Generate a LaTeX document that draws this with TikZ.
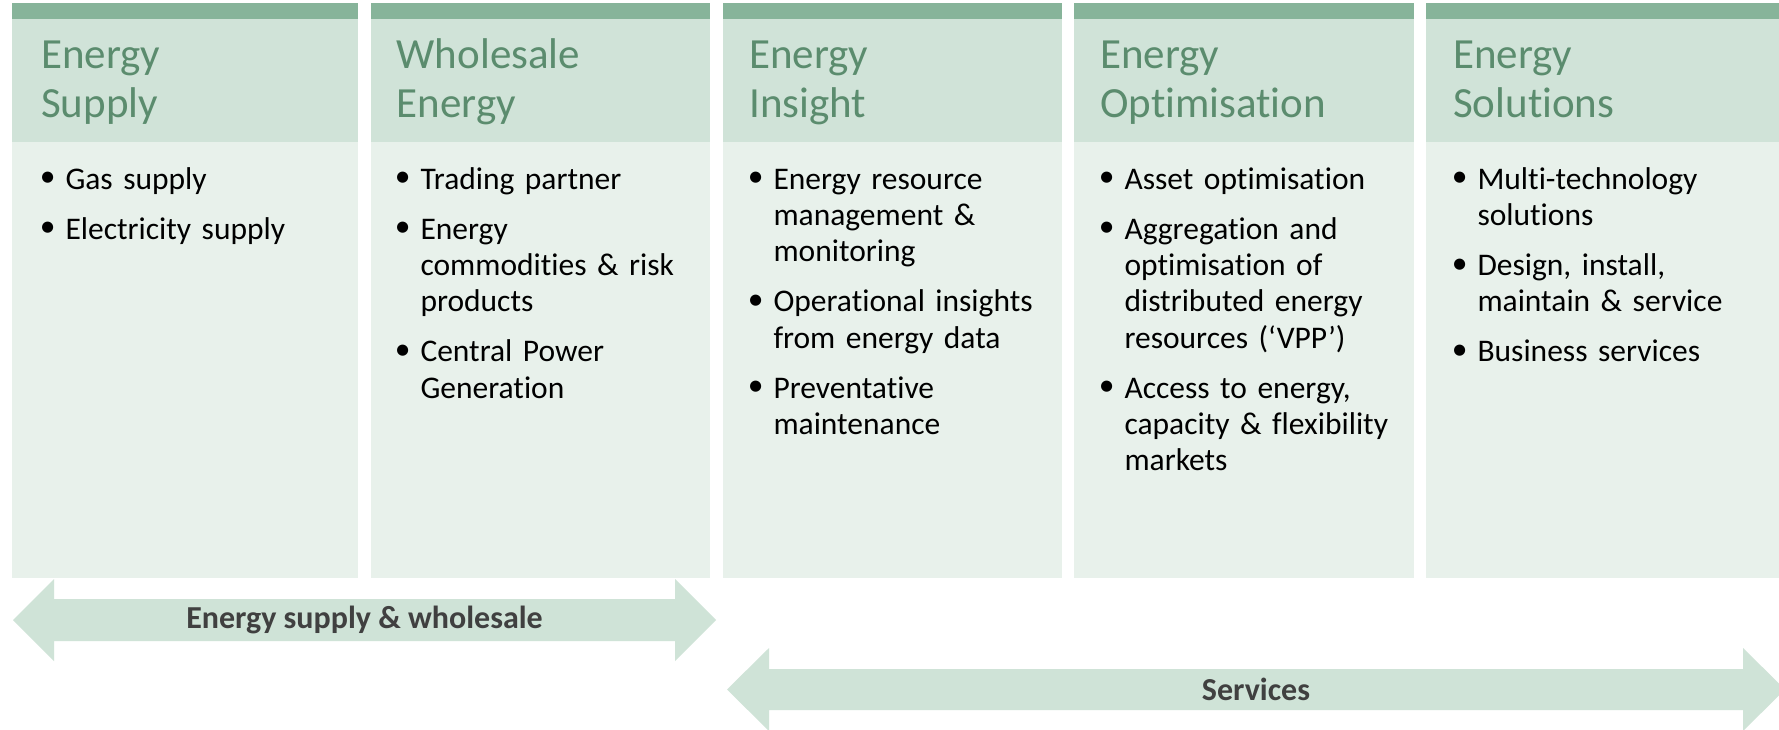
\documentclass[tikz,border=0pt]{standalone}
\usepackage{fontspec}
\setmainfont{Carlito}[Ligatures={NoCommon}]
\definecolor{barcol}{HTML}{87B49A}
\definecolor{headcol}{HTML}{D0E3D8}
\definecolor{bodycol}{HTML}{E8F1EB}
\definecolor{titlecol}{HTML}{5B8C6E}
\definecolor{arrowcol}{HTML}{CFE3D7}
\definecolor{arrowtext}{HTML}{404040}
\newcommand{\bitem}[1]{\noindent\hangindent=23.3pt\hangafter=1\makebox[23.3pt][l]{\hspace{-2.3pt}\raisebox{2.5pt}{\textbullet}}#1\par\vspace{13.7pt}}
\tikzset{
  titletext/.style={anchor=north west, inner sep=0pt, text width=330pt, align=left,
    font=\fontsize{43}{49}\selectfont, text=titlecol},
  bodytext/.style={anchor=north west, inner sep=0pt, text width=330pt, align=left,
    font=\fontsize{31.5}{36.3}\selectfont, text=black},
  arrowlabel/.style={inner sep=0pt, font=\fontsize{32}{36}\selectfont\bfseries, text=arrowtext},
}
\begin{document}
\begin{tikzpicture}[x=1pt,y=-1pt]
\useasboundingbox (0,0) rectangle (1779,730);
\fill[white] (0,0) rectangle (1779,730);
% columns
\foreach \l/\r in {12/358, 371/710, 723/1062, 1074/1414, 1426/1779}{
  \fill[barcol] (\l,3) rectangle (\r,19);
  \fill[headcol] (\l,19) rectangle (\r,142);
  \fill[bodycol] (\l,142) rectangle (\r,578);
}
% titles
\node[titletext] (t1) at (41,33) {\rule{0pt}{35pt}Energy\\Supply};
\node[titletext] (t2) at (396.5,33) {\rule{0pt}{35pt}Wholesale\\Energy};
\node[titletext] (t3) at (749,33) {\rule{0pt}{35pt}Energy\\Insight};
\node[titletext] (t4) at (1100,33) {\rule{0pt}{35pt}Energy\\Optimisation};
\node[titletext] (t5) at (1453,33) {\rule{0pt}{35pt}Energy\\Solutions};
% bodies
\node[bodytext] (b1) at (42,161) {\bitem{\rule{0pt}{28pt}Gas supply}\bitem{Electricity supply}};
\node[bodytext] (b2) at (397,161) {\bitem{\rule{0pt}{28pt}Trading partner}\bitem{Energy\newline commodities \& risk\newline products}\bitem{Central Power\newline Generation}};
\node[bodytext] (b3) at (750,161) {\bitem{\rule{0pt}{28pt}Energy resource\newline management \&\newline monitoring}\bitem{Operational insights\newline from energy data}\bitem{Preventative\newline maintenance}};
\node[bodytext] (b4) at (1101,161) {\bitem{\rule{0pt}{28pt}Asset optimisation}\bitem{Aggregation and\newline optimisation of\newline distributed energy\newline resources (‘VPP’)}\bitem{Access to energy,\newline capacity \& flexibility\newline markets}};
\node[bodytext] (b5) at (1454,161) {\bitem{\rule{0pt}{28pt}Multi-technology\newline solutions}\bitem{Design, install,\newline maintain \& service}\bitem{Business services}};
% arrows
\fill[arrowcol] (13,620) -- (54,579) -- (54,599) -- (675,599) -- (675,579) -- (716,620)
  -- (675,661) -- (675,641) -- (54,641) -- (54,661) -- cycle;
\fill[arrowcol] (727,689.5) -- (769,648) -- (769,669) -- (1743,669) -- (1743,648) -- (1785,689.5)
  -- (1743,731) -- (1743,710) -- (769,710) -- (769,731) -- cycle;
\node[arrowlabel] (a1) at (364.5,620) {Energy supply \& wholesale};
\node[arrowlabel] (a2) at (1256,689.5) {Services};
\end{tikzpicture}
\end{document}
